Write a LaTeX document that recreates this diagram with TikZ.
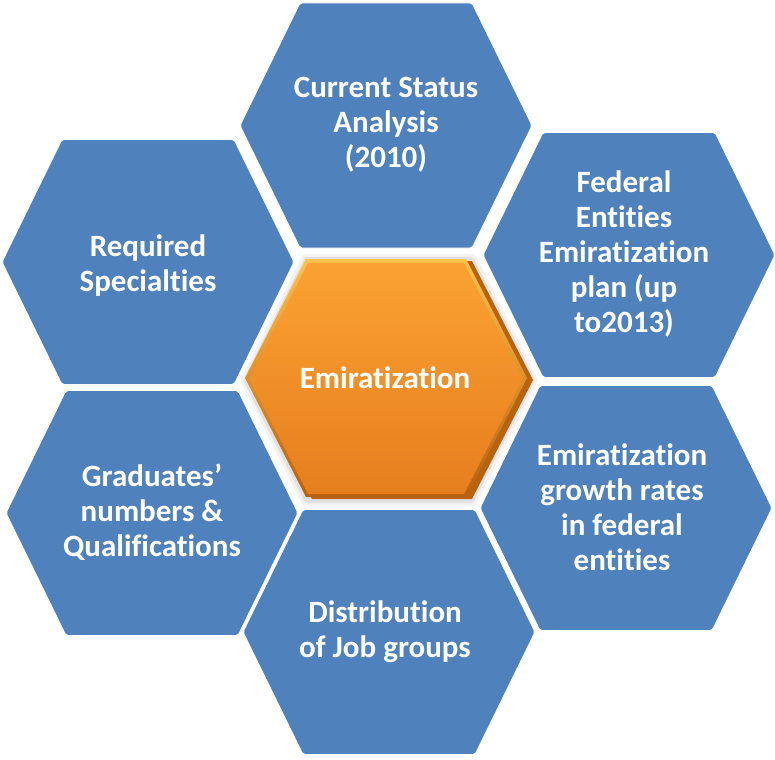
\documentclass[tikz,border=0pt]{standalone}
\usepackage{fontspec}
\setmainfont{Carlito}[Ligatures={NoCommon}]
\definecolor{hexblue}{HTML}{4F81BD}
\definecolor{orTop}{HTML}{FBA233}
\definecolor{orBot}{HTML}{E67E1E}
\definecolor{orRimTop}{HTML}{FFC24A}
\definecolor{orRimBot}{HTML}{B86010}
\definecolor{orBack}{HTML}{B8640F}
\tikzset{
  hexp/.style n args={5}{insert path={
    (#1-#3,#2) -- (#1-#4,#2-#5) -- (#1+#4,#2-#5) -- (#1+#3,#2) --
    (#1+#4,#2+#5) -- (#1-#4,#2+#5) -- cycle}},
  bluehex/.style={fill=hexblue, draw=white, line width=0.8pt, rounded corners=2pt},
  hextext/.style={text=white, font=\fontsize{31}{35}\selectfont\bfseries, align=center},
}
\begin{document}
\begin{tikzpicture}[x=1pt,y=-1pt]
\useasboundingbox (0,0) rectangle (775,759);
% blue hexagons
\path[bluehex, hexp={386}{125.5}{146}{86}{122.5}];
\path[bluehex, hexp={148}{262}{146}{86}{122.5}];
\path[bluehex, hexp={629}{255}{146}{86}{122.5}];
\path[bluehex, hexp={152}{513}{146}{86}{122.5}];
\path[bluehex, hexp={626}{508}{146}{86}{122.5}];
\path[bluehex, hexp={389}{632}{146}{86}{122.5}];
% center hexagon: shadow, back layer, bevel rim, face
\fill[black, opacity=0.05, rounded corners=3pt, hexp={389}{380}{149}{86}{126}];
\fill[black, opacity=0.07, rounded corners=2pt, hexp={389}{380}{146}{84}{123}];
\fill[orBack, hexp={392}{380}{141}{80}{119}];
\shade[top color=orRimTop, bottom color=orRimBot, hexp={386}{378}{141}{80}{119}];
\shade[top color=orTop, bottom color=orBot, hexp={386}{378.5}{137}{78}{115.5}];
% texts
\node[hextext] (top) at (386,125) {Current Status\\Analysis\\(2010)};
\node[hextext] (req) at (148,266) {Required\\Specialties};
\node[hextext] (fed) at (624,254) {Federal\\Entities\\Emiratization\\plan (up\\to2013)};
\node[hextext] (grad) at (152,512) {Graduates’\\numbers \&\\Qualifications};
\node[hextext] (growth) at (622,507) {Emiratization\\growth rates\\in federal\\entities};
\node[hextext] (dist) at (385,632) {Distribution\\of Job groups};
\node[hextext] (center) at (385,378) {Emiratization};
\end{tikzpicture}
\end{document}
